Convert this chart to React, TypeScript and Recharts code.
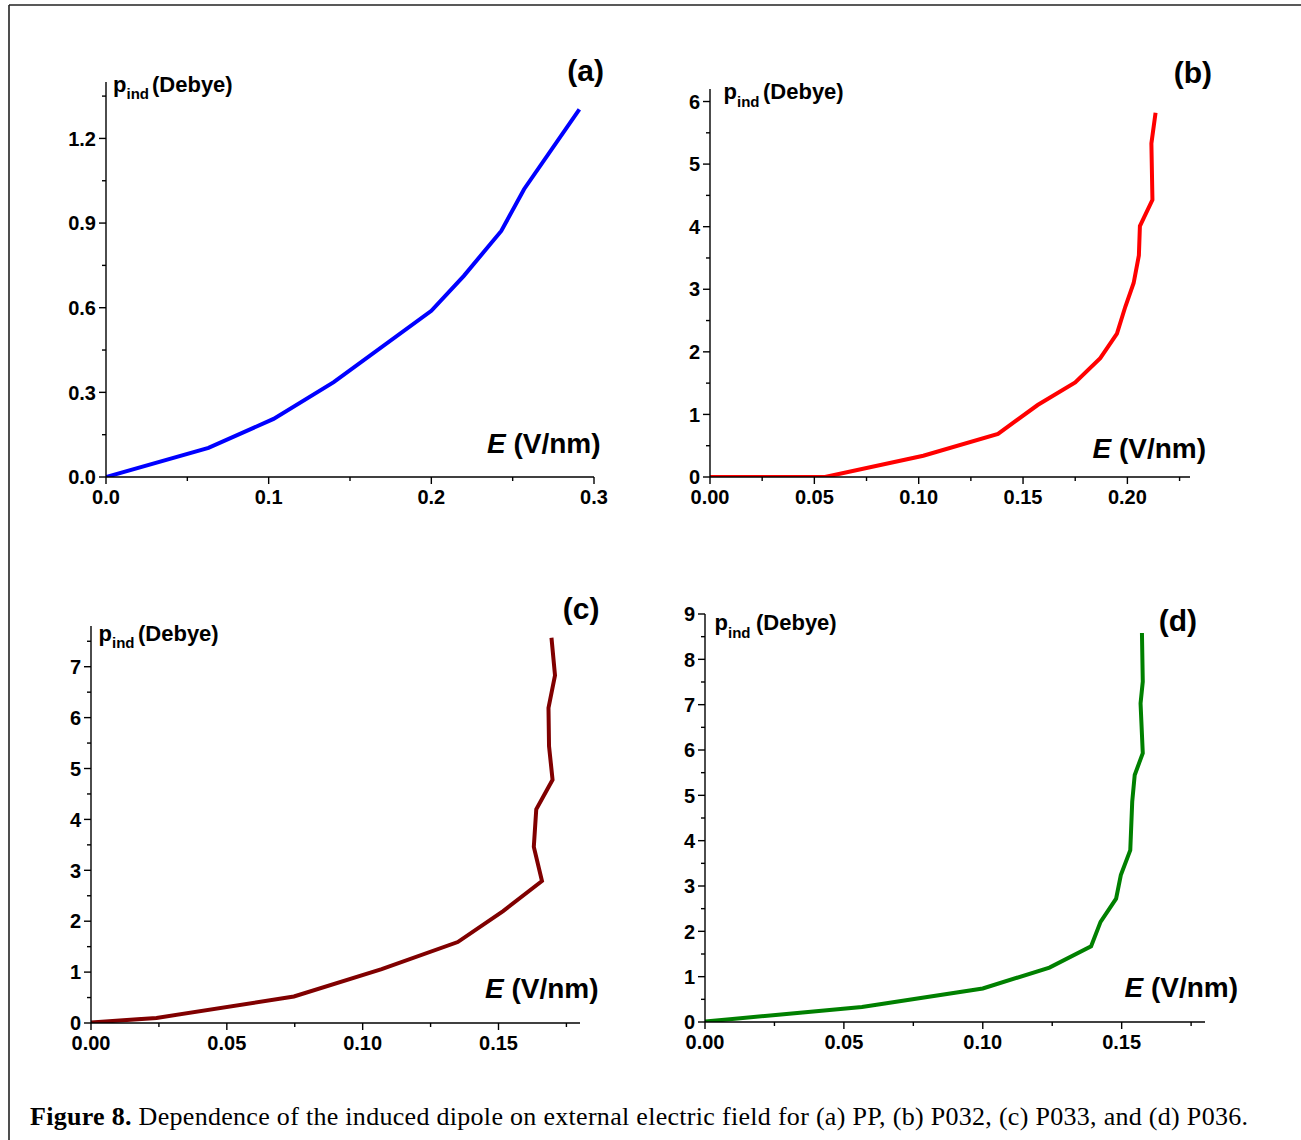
import React from 'react';
import { LineChart, Line, XAxis, YAxis } from 'recharts';

// (a) PP
const fieldA = [0, 0.063, 0.103, 0.14, 0.2, 0.22, 0.243, 0.257, 0.291];
const dipoleA = [0, 0.103, 0.206, 0.336, 0.589, 0.713, 0.872, 1.02, 1.303];
// (b) P032
const fieldB = [0, 0.0551, 0.1022, 0.138, 0.157, 0.175, 0.187, 0.195, 0.199, 0.203, 0.2055, 0.206, 0.212, 0.2115, 0.2135];
const dipoleB = [0, 0, 0.34, 0.69, 1.15, 1.51, 1.9, 2.29, 2.72, 3.1, 3.54, 4.01, 4.43, 5.33, 5.82];
// (c) P033
const fieldC = [0, 0.0241, 0.0747, 0.107, 0.135, 0.1517, 0.166, 0.163, 0.1639, 0.1699, 0.1686, 0.1684, 0.1708, 0.1695];
const dipoleC = [0.01, 0.1, 0.52, 1.06, 1.59, 2.2, 2.79, 3.46, 4.2, 4.78, 5.44, 6.19, 6.83, 7.57];
// (d) P036
const fieldD = [0, 0.0565, 0.1, 0.124, 0.139, 0.1424, 0.148, 0.1497, 0.1531, 0.1538, 0.1547, 0.1576, 0.1568, 0.1576, 0.1573];
const dipoleD = [0.01, 0.33, 0.74, 1.2, 1.67, 2.21, 2.72, 3.24, 3.79, 4.86, 5.45, 5.93, 7.03, 7.51, 8.58];

// ticks
const xMajorA = [0, 0.1, 0.2, 0.3];
const xMinorA = [0.05, 0.15, 0.25];
const yMajorA = [0, 0.3, 0.6, 0.9, 1.2];
const yMinorA = [0.15, 0.45, 0.75, 1.05, 1.35];

const xMajorB = [0, 0.05, 0.1, 0.15, 0.2];
const xMinorB = [0.025, 0.075, 0.125, 0.175, 0.225];
const yMajorB = [0, 1, 2, 3, 4, 5, 6];
const yMinorB = [0.5, 1.5, 2.5, 3.5, 4.5, 5.5];

const xMajorCD = [0, 0.05, 0.1, 0.15];
const xMinorCD = [0.025, 0.075, 0.125, 0.175];
const yMajorC = [0, 1, 2, 3, 4, 5, 6, 7];
const yMinorC = [0.5, 1.5, 2.5, 3.5, 4.5, 5.5, 6.5, 7.5];
const yMajorD = [0, 1, 2, 3, 4, 5, 6, 7, 8, 9];
const yMinorD = [0.5, 1.5, 2.5, 3.5, 4.5, 5.5, 6.5, 7.5, 8.5];

const CAPTION_BOLD = 'Figure 8.';
const CAPTION_TEXT = ' Dependence of the induced dipole on external electric field for (a) PP, (b) P032, (c) P033, and (d) P036.';

const SANS = '"Liberation Sans", Arial, sans-serif';
const SERIF = '"Liberation Serif", "Times New Roman", serif';
const Y_W = 50;
const X_H = 40;

const near = (v: number, list: number[]) => list.some(m => Math.abs(m - v) < 1e-9);

const makeXTick = (major: number[], digits: number) => (props: any) => {
  const { x, y, payload } = props;
  const isMajor = near(payload.value, major);
  return (
    <g>
      <line x1={x} x2={x} y1={y} y2={y + (isMajor ? 7 : 4)} stroke="#000" strokeWidth={1.4} />
      {isMajor && (
        <text x={x} y={y + 27} textAnchor="middle" fontFamily={SANS} fontWeight="bold" fontSize={20} fill="#000">
          {payload.value.toFixed(digits)}
        </text>
      )}
    </g>
  );
};

const makeYTick = (major: number[], digits: number) => (props: any) => {
  const { x, y, payload } = props;
  const isMajor = near(payload.value, major);
  return (
    <g>
      <line x1={x} x2={x - (isMajor ? 7 : 4)} y1={y} y2={y} stroke="#000" strokeWidth={1.4} />
      {isMajor && (
        <text x={x - 10} y={y} dy="0.36em" textAnchor="end" fontFamily={SANS} fontWeight="bold" fontSize={20} fill="#000">
          {payload.value.toFixed(digits)}
        </text>
      )}
    </g>
  );
};

interface PanelProps {
  field: number[];
  dipole: number[];
  color: string;
  box: { left: number; top: number; right: number; bottom: number };
  xMax: number;
  yMax: number;
  xMajor: number[];
  xMinor: number[];
  yMajor: number[];
  yMinor: number[];
  xDigits: number;
  yDigits: number;
}

const Panel: React.FC<PanelProps> = ({ field, dipole, color, box, xMax, yMax, xMajor, xMinor, yMajor, yMinor, xDigits, yDigits }) => {
  const data = field.map((e, i) => ({ e, p: dipole[i] }));
  const width = box.right - box.left + Y_W + 20;
  const height = box.bottom - box.top + X_H + 10;
  return (
    <div style={{ position: 'absolute', left: box.left - Y_W, top: box.top - 10 }}>
      <LineChart width={width} height={height} data={data} margin={{ top: 10, right: 20, bottom: 0, left: 0 }}>
        <XAxis
          type="number"
          dataKey="e"
          domain={[0, xMax]}
          ticks={[...xMajor, ...xMinor].sort((a, b) => a - b)}
          interval={0}
          height={X_H}
          tickSize={0}
          tickMargin={0}
          tickLine={false}
          axisLine={{ stroke: '#000', strokeWidth: 1.4 }}
          tick={makeXTick(xMajor, xDigits)}
          allowDataOverflow
        />
        <YAxis
          type="number"
          domain={[0, yMax]}
          ticks={[...yMajor, ...yMinor].sort((a, b) => a - b)}
          interval={0}
          width={Y_W}
          tickSize={0}
          tickMargin={0}
          tickLine={false}
          axisLine={{ stroke: '#000', strokeWidth: 1.4 }}
          tick={makeYTick(yMajor, yDigits)}
          allowDataOverflow
        />
        <Line type="linear" dataKey="p" stroke={color} strokeWidth={4} dot={false} isAnimationActive={false} />
      </LineChart>
    </div>
  );
};

interface LabelSet {
  pX: number;
  pBase: number;
  debyeX: number;
  tagRight: number;
  tagBase: number;
  tag: string;
  eX: number;
  eBase: number;
}

const labels: LabelSet[] = [
  { pX: 113, pBase: 91.5, debyeX: 152, tagRight: 604, tagBase: 80.5, tag: '(a)', eX: 487, eBase: 453 },
  { pX: 723.5, pBase: 99, debyeX: 763, tagRight: 1212, tagBase: 83, tag: '(b)', eX: 1092.5, eBase: 458 },
  { pX: 98.5, pBase: 640.5, debyeX: 138, tagRight: 599.5, tagBase: 619, tag: '(c)', eX: 485, eBase: 998 },
  { pX: 714.5, pBase: 630, debyeX: 756, tagRight: 1197, tagBase: 630.5, tag: '(d)', eX: 1124.5, eBase: 996.5 },
];

const App: React.FC = () => {
  return (
    <div style={{ position: 'absolute', left: 0, top: 0, width: 1301, height: 1140, background: '#fff', overflow: 'hidden' }}>
      <Panel field={fieldA} dipole={dipoleA} color="#0000ff" box={{ left: 106, top: 82, right: 594, bottom: 477 }}
        xMax={0.3} yMax={1.4} xMajor={xMajorA} xMinor={xMinorA} yMajor={yMajorA} yMinor={yMinorA} xDigits={1} yDigits={1} />
      <Panel field={fieldB} dipole={dipoleB} color="#ff0000" box={{ left: 710, top: 89, right: 1190, bottom: 477 }}
        xMax={0.23} yMax={6.2} xMajor={xMajorB} xMinor={xMinorB} yMajor={yMajorB} yMinor={yMinorB} xDigits={2} yDigits={0} />
      <Panel field={fieldC} dipole={dipoleC} color="#800000" box={{ left: 91, top: 626, right: 580, bottom: 1023 }}
        xMax={0.18} yMax={7.8} xMajor={xMajorCD} xMinor={xMinorCD} yMajor={yMajorC} yMinor={yMinorC} xDigits={2} yDigits={0} />
      <Panel field={fieldD} dipole={dipoleD} color="#008000" box={{ left: 705, top: 614, right: 1205, bottom: 1022 }}
        xMax={0.18} yMax={9} xMajor={xMajorCD} xMinor={xMinorCD} yMajor={yMajorD} yMinor={yMinorD} xDigits={2} yDigits={0} />

      <svg width={1301} height={1140} style={{ position: 'absolute', left: 0, top: 0, pointerEvents: 'none' }}>
        <line x1={9} y1={5} x2={1301} y2={5} stroke="#222" strokeWidth={1.6} />
        <line x1={9} y1={5} x2={9} y2={1140} stroke="#222" strokeWidth={1.6} />
        {labels.map(l => (
          <g key={l.tag} fontFamily={SANS} fontWeight="bold" fill="#000">
            <text x={l.pX} y={l.pBase} fontSize={22}>p</text>
            <text x={l.pX + 13.5} y={l.pBase + 7.5} fontSize={15}>ind</text>
            <text x={l.debyeX} y={l.pBase} fontSize={22}>(Debye)</text>
            <text x={l.tagRight} y={l.tagBase} fontSize={30} textAnchor="end">{l.tag}</text>
            <text x={l.eX} y={l.eBase} fontSize={28}>
              <tspan fontStyle="italic">E</tspan>
              <tspan> (V/nm)</tspan>
            </text>
          </g>
        ))}
        <text x={30} y={1125} fontFamily={SERIF} fontSize={26} fill="#000" textLength={1218} lengthAdjust="spacing">
          <tspan fontWeight="bold">{CAPTION_BOLD}</tspan>
          <tspan>{CAPTION_TEXT}</tspan>
        </text>
      </svg>
    </div>
  );
};

export default App;
